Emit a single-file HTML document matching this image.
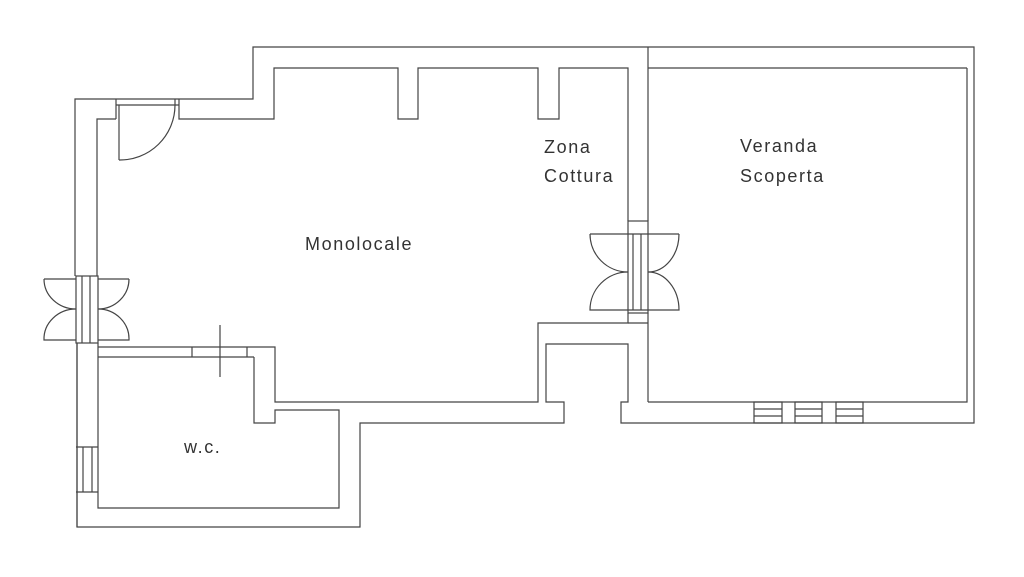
<!DOCTYPE html>
<html><head><meta charset="utf-8"><style>
html,body{margin:0;padding:0;background:#fff;}
svg{display:block}
text{font-family:"Liberation Sans",sans-serif;font-size:18px;fill:#333;letter-spacing:1.6px;font-weight:300}
</style></head><body>
<svg width="1024" height="577" viewBox="0 0 1024 577" xmlns="http://www.w3.org/2000/svg">
<g fill="none" stroke="#444" stroke-width="1.2">
<!-- outer top -->
<polyline points="75,276 75,99 253,99 253,47 974,47 974,423 621,423 621,402 628,402 628,344 546,344 546,402 564,402 564,423 360,423 360,527 77,527 77,343"/>
<!-- inner main -->
<polyline points="97,276 97,119 116,119"/>
<polyline points="179,99 179,119 274,119 274,68 398,68 398,119 418,119 418,68 538,68 538,119 559,119 559,68 628,68 628,221"/>
<line x1="116" y1="99" x2="116" y2="119"/>
<line x1="116" y1="105" x2="179" y2="105"/>
<line x1="175" y1="99" x2="175" y2="105"/>
<line x1="119" y1="105" x2="119" y2="160"/>
<path d="M119,160 A55,55 0 0 0 175,105"/>
<!-- right wall below window -->
<polyline points="628,313 628,323 538,323 538,402 520,402 275,402 275,347 98,347"/>
<line x1="98" y1="357" x2="254" y2="357"/>
<polyline points="254,357 254,423 275,423 275,410 339,410 339,508 98,508 98,343"/>
<line x1="192" y1="347" x2="192" y2="357"/>
<line x1="247" y1="347" x2="247" y2="357"/>
<line x1="220" y1="325" x2="220" y2="377"/>
<!-- veranda -->
<line x1="648" y1="47" x2="648" y2="221"/>
<line x1="648" y1="313" x2="648" y2="402"/>
<line x1="648" y1="68" x2="967" y2="68"/>
<polyline points="967,68 967,402 648,402"/>
<line x1="628" y1="323" x2="648" y2="323"/>
<!-- steps -->
<g>
<rect x="754" y="402" width="28" height="21"/><line x1="754" y1="409" x2="782" y2="409"/><line x1="754" y1="416" x2="782" y2="416"/>
<rect x="795" y="402" width="27" height="21"/><line x1="795" y1="409" x2="822" y2="409"/><line x1="795" y1="416" x2="822" y2="416"/>
<rect x="836" y="402" width="27" height="21"/><line x1="836" y1="409" x2="863" y2="409"/><line x1="836" y1="416" x2="863" y2="416"/>
</g>
<!-- right window -->
<rect x="628" y="221" width="20" height="92"/>
<line x1="628" y1="234" x2="648" y2="234"/><line x1="628" y1="310" x2="648" y2="310"/>
<line x1="633" y1="234" x2="633" y2="310"/><line x1="641" y1="234" x2="641" y2="310"/>
<path d="M590,234 L628,234 M590,234 A38,38 0 0 0 628,272 M628,272 A38,38 0 0 0 590,310 L628,310"/>
<path d="M679,234 L648,234 M679,234 A31,38 0 0 1 648,272 M648,272 A31,38 0 0 1 679,310 L648,310"/>
<!-- left window -->
<rect x="76" y="276" width="22" height="67"/>
<line x1="82" y1="276" x2="82" y2="343"/><line x1="90" y1="276" x2="90" y2="343"/>
<path d="M44,279 L76,279 M44,279 A32,30 0 0 0 76,309 M76,309 A32,30 0 0 0 44,340 L76,340"/>
<path d="M129,279 L98,279 M129,279 A31,30 0 0 1 98,309 M98,309 A31,30 0 0 1 129,340 L98,340"/>
<!-- lower left window -->
<line x1="77" y1="343" x2="77" y2="527"/>
<line x1="76" y1="447" x2="98" y2="447"/><line x1="76" y1="492" x2="98" y2="492"/>
<line x1="83" y1="447" x2="83" y2="492"/><line x1="92" y1="447" x2="92" y2="492"/>
</g>
<text x="305" y="250">Monolocale</text>
<text x="544" y="153">Zona</text>
<text x="544" y="182">Cottura</text>
<text x="740" y="152">Veranda</text>
<text x="740" y="182">Scoperta</text>
<text x="184" y="453">w.c.</text>
</svg>
</body></html>
